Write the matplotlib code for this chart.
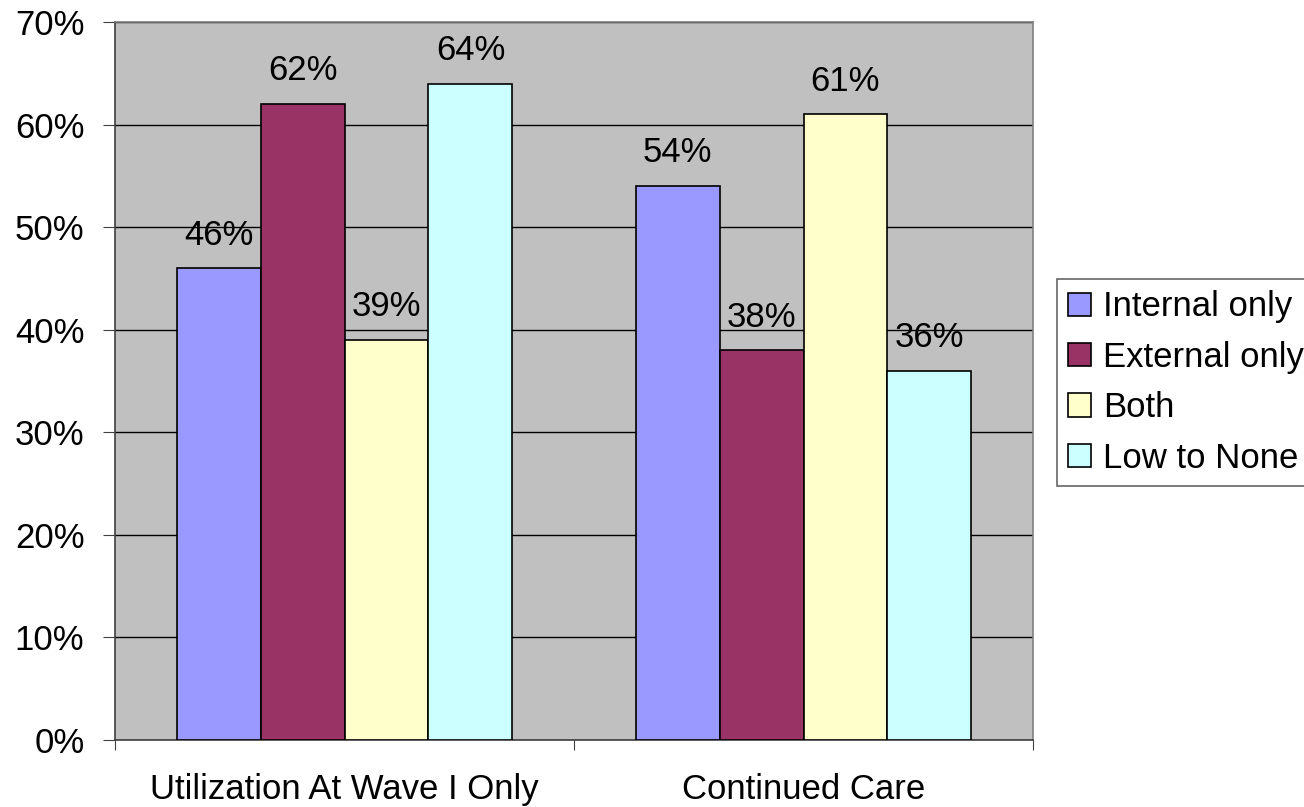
import matplotlib
matplotlib.use('Agg')
import matplotlib.pyplot as plt
import numpy as np

categories = ['Utilization At Wave I Only', 'Continued Care']
series = ['Internal only', 'External only', 'Both', 'Low to None']
values = {
    'Internal only': [46, 54],
    'External only': [62, 38],
    'Both':          [39, 61],
    'Low to None':   [64, 36],
}
colors = ['#9999FF', '#993366', '#FFFFCC', '#CCFFFF']

plt.rcParams['font.family'] = ['Liberation Sans', 'DejaVu Sans']
FS = 25

fig = plt.figure(figsize=(13.04, 8.07), dpi=100)
ax = fig.add_axes([115/1304, 67/807, 918/1304, 718/807])
ax.set_facecolor('#C0C0C0')

x = np.arange(len(categories))
w = 0.183
for i, (name, col) in enumerate(zip(series, colors)):
    pos = x + (i - 1.5) * w
    bars = ax.bar(pos, values[name], width=w, color=col, edgecolor='black',
                  linewidth=1.2, label=name, zorder=3)
    for b, v in zip(bars, values[name]):
        ax.annotate(f'{v}%', (b.get_x() + b.get_width() / 2, v),
                    xytext=(0, 12), textcoords='offset points',
                    ha='center', va='bottom', fontsize=FS)

ax.set_xlim(-0.5, 1.5)
ax.set_ylim(0, 70)
ax.set_yticks(range(0, 71, 10))
ax.set_yticklabels([f'{t}%' for t in range(0, 71, 10)], fontsize=FS)
ax.yaxis.grid(True, color='black', linewidth=1, zorder=0)
ax.set_axisbelow(True)

# category ticks sit on the group boundaries, labels in between
ax.set_xticks([-0.5, 0.5, 1.5])
ax.set_xticklabels([])
ax.set_xticks(x, minor=True)
ax.set_xticklabels(categories, minor=True, fontsize=FS)
ax.tick_params(axis='x', which='major', length=7, color='#404040')
ax.tick_params(axis='x', which='minor', length=0, pad=24)
ax.tick_params(axis='y', length=9, color='#404040', pad=13)

for s in ['top', 'right']:
    ax.spines[s].set_color('#808080')
for s in ['left', 'bottom']:
    ax.spines[s].set_color('#404040')
for s in ax.spines.values():
    s.set_linewidth(1.2)

leg = fig.legend(loc='upper left', bbox_to_anchor=(1057/1304, 1 - 279/807),
                 fontsize=FS, frameon=True, fancybox=False, edgecolor='#404040',
                 handlelength=0.65, handleheight=0.65, handletextpad=0.35,
                 labelspacing=0.5, borderpad=0.33, borderaxespad=0)
leg.get_frame().set_linewidth(1.2)

fig.savefig('out.png', dpi=100)
